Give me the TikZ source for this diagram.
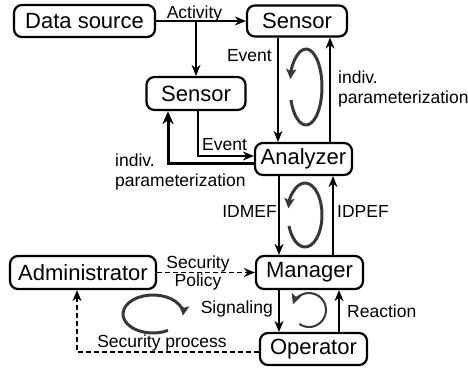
\documentclass[tikz,border=0pt]{standalone}
\usepackage{fontspec}
\setmainfont{Liberation Sans}
\usetikzlibrary{arrows.meta}
\begin{document}
\begin{tikzpicture}[x=1pt,y=-1pt,
  box/.style={draw, line width=2.2pt, rounded corners=8pt, inner sep=0pt, fill=white,
    font=\fontsize{22}{24}\selectfont},
  lbl/.style={inner sep=0pt, font=\fontsize{17.5}{20}\selectfont},
  arr/.style={line width=1.6pt, -{Stealth[length=11pt,width=9pt,inset=3.5pt]}},
  thickarr/.style={line width=3pt, -{Stealth[length=13pt,width=11pt,inset=4pt]}},
  dasharr/.style={arr, dash pattern=on 5pt off 3pt},
  cyc/.style={line width=3pt, draw=black!78, -{Stealth[length=10pt,width=10pt,inset=2pt]}}
]
\useasboundingbox (0,0) rectangle (468,368);

% nodes
\node[box, minimum width=141pt, minimum height=32pt] (ds) at (84.5,21) {Data source};
\node[box, minimum width=100pt, minimum height=31pt] (s1) at (297,21) {Sensor};
\node[box, minimum width=99pt, minimum height=33pt] (s2) at (196,93.5) {Sensor};
\node[box, minimum width=97pt, minimum height=32pt] (an) at (303.5,159) {Analyzer};
\node[box, minimum width=107pt, minimum height=33pt] (mg) at (309.5,272.5) {Manager};
\node[box, minimum width=107pt, minimum height=32pt] (op) at (313.5,349) {Operator};
\node[box, minimum width=146pt, minimum height=33pt] (ad) at (83,272.5) {Administrator};

% helper coordinates
\coordinate (xa) at (278,0);
\coordinate (xb) at (330,0);
\coordinate (xc) at (279,0);
\coordinate (xd) at (333,0);
\coordinate (xe) at (339,0);
\coordinate (ye) at (0,156);
\coordinate (yp) at (0,163);
\coordinate (xev) at (198,0);
\coordinate (xpar) at (168,0);
\coordinate (sp) at (77,352);

% connectors
\draw[arr] (ds.east) -- (s1.west);
\draw[arr] (ds.east -| s2.north) -- (s2.north);
\draw[arr] (s1.south -| xa) -- (an.north -| xa);
\draw[arr] (an.north -| xb) -- (s1.south -| xb);
\draw[arr] (s2.south -| xev) -- (xev |- ye) -- (an.west |- ye);
\draw[thickarr] (an.west |- yp) -- (xpar |- yp) -- (s2.south -| xpar);
\draw[arr] (an.south -| xc) -- (mg.north -| xc);
\draw[arr] (mg.north -| xd) -- (an.south -| xd);
\draw[arr] (mg.south -| xc) -- (op.north -| xc);
\draw[arr] (op.north -| xe) -- (mg.south -| xe);
\draw[dasharr] (ad.east) -- (mg.west);
\draw[dasharr] (op.west |- sp) -- (sp) -- (ad.south -| sp);

% cycle arrows
\draw[cyc] (306,87) ++(-200:16 and 38) arc[start angle=-200, end angle=-528, x radius=16, y radius=38];
\draw[cyc] (305,215) ++(-200:17 and 32) arc[start angle=-200, end angle=-528, x radius=17, y radius=32];
\draw[cyc, line width=2pt] (309,310) ++(-235:17 and 17) arc[start angle=-235, end angle=-520, x radius=17, y radius=17];
\draw[cyc] (153,314) ++(-300:30 and 19) arc[start angle=-300, end angle=5, x radius=30, y radius=19];

% labels
\node[lbl, anchor=base] (tact) at (194.5,18) {Activity};
\node[lbl, anchor=base east] (tev1) at (272,61) {Event};
\node[lbl, anchor=base west] (tpar1a) at (338,83) {indiv.};
\node[lbl, anchor=base west] (tpar1b) at (338,103) {parameterization};
\node[lbl, anchor=base] (tev2) at (224.5,150) {Event};
\node[lbl, anchor=base west] (tpar2a) at (115,166) {indiv.};
\node[lbl, anchor=base west] (tpar2b) at (115,186) {parameterization};
\node[lbl, anchor=base east] (tidm) at (277,217) {IDMEF};
\node[lbl, anchor=base west] (tidp) at (337,217) {IDPEF};
\node[lbl, anchor=base] (tsec) at (198,268) {Security};
\node[lbl, anchor=base] (tpol) at (198,286) {Policy};
\node[lbl, anchor=base east] (tsig) at (273,313) {Signaling};
\node[lbl, anchor=base west] (trea) at (347,317) {Reaction};
\node[lbl, anchor=base] (tsp) at (162,347) {Security process};
\end{tikzpicture}
\end{document}
